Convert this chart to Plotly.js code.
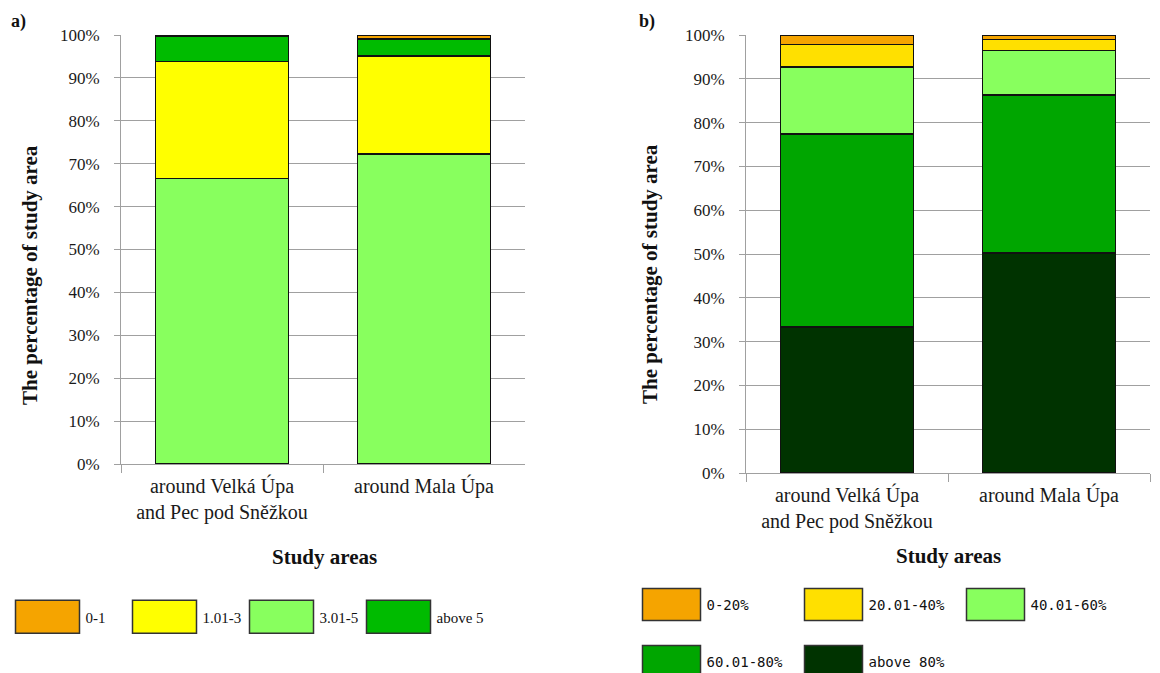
<!DOCTYPE html>
<html>
<head>
<meta charset="utf-8">
<script src="https://cdn.plot.ly/plotly-3.0.1.min.js"></script>
<style>html,body{margin:0;padding:0;background:#fff;}#chart{width:1160px;height:673px;}</style>
</head>
<body>
<div id="chart"></div>
<script>
// ---- data ----
var categories = ['around Velká Úpa<br>and Pec pod Sněžkou', 'around Mala Úpa'];

// panel a)
var aNames = ['0-1', '1.01-3', '3.01-5', 'above 5'];
var a_0_1 = [0.2, 0.9];
var a_1_3 = [27.2, 22.8];
var a_3_5 = [66.6, 72.3];
var a_above5 = [6.0, 4.0];

// panel b)
var bNames = ['0-20%', '20.01-40%', '40.01-60%', '60.01-80%', 'above 80%'];
var b_0_20 = [2.2, 1.0];
var b_20_40 = [5.1, 2.5];
var b_40_60 = [15.3, 10.2];
var b_60_80 = [44.1, 36.1];
var b_above80 = [33.3, 50.2];

var yTicks = [0, 10, 20, 30, 40, 50, 60, 70, 80, 90, 100];
var yTickText = ['0%', '10%', '20%', '30%', '40%', '50%', '60%', '70%', '80%', '90%', '100%'];

// ---- styles ----
var C = {orange: '#F5A400', yellowA: '#FFFF00', yellowB: '#FFE000', light: '#88FF5E',
         greenA: '#00BB00', greenB: '#00A600', dark: '#003300'};
var outline = {color: '#111', width: 1.5};

function bar(name, vals, color, xa, ya, leg, rank) {
  return {type: 'bar', name: name, x: categories, y: vals, xaxis: xa, yaxis: ya,
          legend: leg, legendrank: rank,
          marker: {color: color, line: outline}, hoverinfo: 'skip'};
}

var traces = [
  // panel a stacking order (bottom -> top)
  bar(aNames[2], a_3_5, C.light, 'x', 'y', 'legend', 3),
  bar(aNames[1], a_1_3, C.yellowA, 'x', 'y', 'legend', 2),
  bar(aNames[3], a_above5, C.greenA, 'x', 'y', 'legend', 4),
  bar(aNames[0], a_0_1, C.orange, 'x', 'y', 'legend', 1),
  // panel b stacking order (bottom -> top)
  bar(bNames[4], b_above80, C.dark, 'x2', 'y2', 'legend3', 5),
  bar(bNames[3], b_60_80, C.greenB, 'x2', 'y2', 'legend3', 4),
  bar(bNames[2], b_40_60, C.light, 'x2', 'y2', 'legend2', 3),
  bar(bNames[1], b_20_40, C.yellowB, 'x2', 'y2', 'legend2', 2),
  bar(bNames[0], b_0_20, C.orange, 'x2', 'y2', 'legend2', 1)
];

var serif = 'Liberation Serif';
var gridC = '#a0a0a0';

function xAx(domain, anchor) {
  return {domain: domain, anchor: anchor, type: 'category', range: [-0.5, 1.5],
          showline: true, linecolor: gridC, linewidth: 1,
          ticks: 'outside', tickson: 'boundaries', ticklen: 8, tickcolor: gridC, tickangle: 0,
          automargin: false, ticklabelstandoff: 4,
          showgrid: false, tickfont: {family: serif, size: 20, color: '#1a1a1a'}, fixedrange: true};
}
function yAx(domain, anchor) {
  return {domain: domain, anchor: anchor, range: [0, 100], tickmode: 'array',
          tickvals: yTicks, ticktext: yTickText, automargin: false, ticklabelstandoff: 11,
          showline: true, linecolor: gridC, linewidth: 1,
          ticks: 'outside', ticklen: 6, tickcolor: gridC,
          showgrid: true, gridcolor: gridC, gridwidth: 1, zeroline: false,
          tickfont: {family: serif, size: 17, color: '#1a1a1a'}, fixedrange: true};
}

var legFontA = {family: serif, size: 15, color: '#111'};
var legFontB = {family: 'DejaVu Sans Mono', size: 14, color: '#111'};

function note(text, px, py, size, angle) {
  return {text: text, x: px/1160, y: (673-py)/673, xref: 'paper', yref: 'paper',
          xanchor: 'center', yanchor: 'middle', showarrow: false, textangle: angle || 0,
          font: {family: serif, size: size, color: '#111'}};
}

var layout = {
  width: 1160, height: 673,
  margin: {l: 0, r: 0, t: 0, b: 0, autoexpand: false},
  paper_bgcolor: '#fff', plot_bgcolor: '#fff',
  barmode: 'stack', bargap: 0.34,
  showlegend: true,
  xaxis: xAx([121/1160, 525/1160], 'y'),
  yaxis: yAx([(673-464)/673, (673-35)/673], 'x'),
  xaxis2: xAx([746/1160, 1150/1160], 'y2'),
  yaxis2: yAx([(673-473)/673, (673-35)/673], 'x2'),
  legend: {orientation: 'h', x: 9.5/1160, xanchor: 'left', y: (673-617)/673, yanchor: 'middle',
           entrywidth: 36, entrywidthmode: 'pixels', itemwidth: 66, font: legFontA,
           bgcolor: 'rgba(0,0,0,0)', traceorder: 'normal'},
  legend2: {orientation: 'h', x: 636.5/1160, xanchor: 'left', y: (673-605)/673, yanchor: 'middle',
           entrywidth: 87, entrywidthmode: 'pixels', itemwidth: 60, font: legFontB,
           bgcolor: 'rgba(0,0,0,0)', traceorder: 'normal'},
  legend3: {orientation: 'h', x: 636.5/1160, xanchor: 'left', y: (673-662)/673, yanchor: 'middle',
           entrywidth: 87, entrywidthmode: 'pixels', itemwidth: 60, font: legFontB,
           bgcolor: 'rgba(0,0,0,0)', traceorder: 'normal'},
  annotations: [
    note('<b>a)</b>', 18, 22, 18),
    note('<b>b)</b>', 647, 22, 18),
    note('<b>The percentage of study area</b>', 30, 275, 21, -90),
    note('<b>The percentage of study area</b>', 650, 274, 21, -90),
    note('<b>Study areas</b>', 324, 557, 21),
    note('<b>Study areas</b>', 948, 556, 21)
  ]
};

function enlargeLegendBoxes() {
  var la = document.querySelector('#chart g.legend');
  if (la) la.querySelectorAll('.legendpoints path').forEach(function (p) {
    p.setAttribute('d', 'M32,16.5H-32V-16.5H32Z');
    p.style.strokeWidth = '1.5px';
    p.style.stroke = '#333';
  });
  document.querySelectorAll('#chart g.legend2, #chart g.legend3').forEach(function (lg) {
    lg.querySelectorAll('.legendpoints path').forEach(function (p) {
      p.setAttribute('d', 'M29,16H-29V-16H29Z');
      p.style.strokeWidth = '1.5px';
      p.style.stroke = '#333';
    });
  });
  document.querySelectorAll('#chart [clip-path]').forEach(function (g) {
    if (g.closest('.legend, .legend2, .legend3')) g.removeAttribute('clip-path');
  });
}

Plotly.newPlot('chart', traces, layout, {displayModeBar: false, staticPlot: true}).then(enlargeLegendBoxes);
</script>
</body>
</html>
